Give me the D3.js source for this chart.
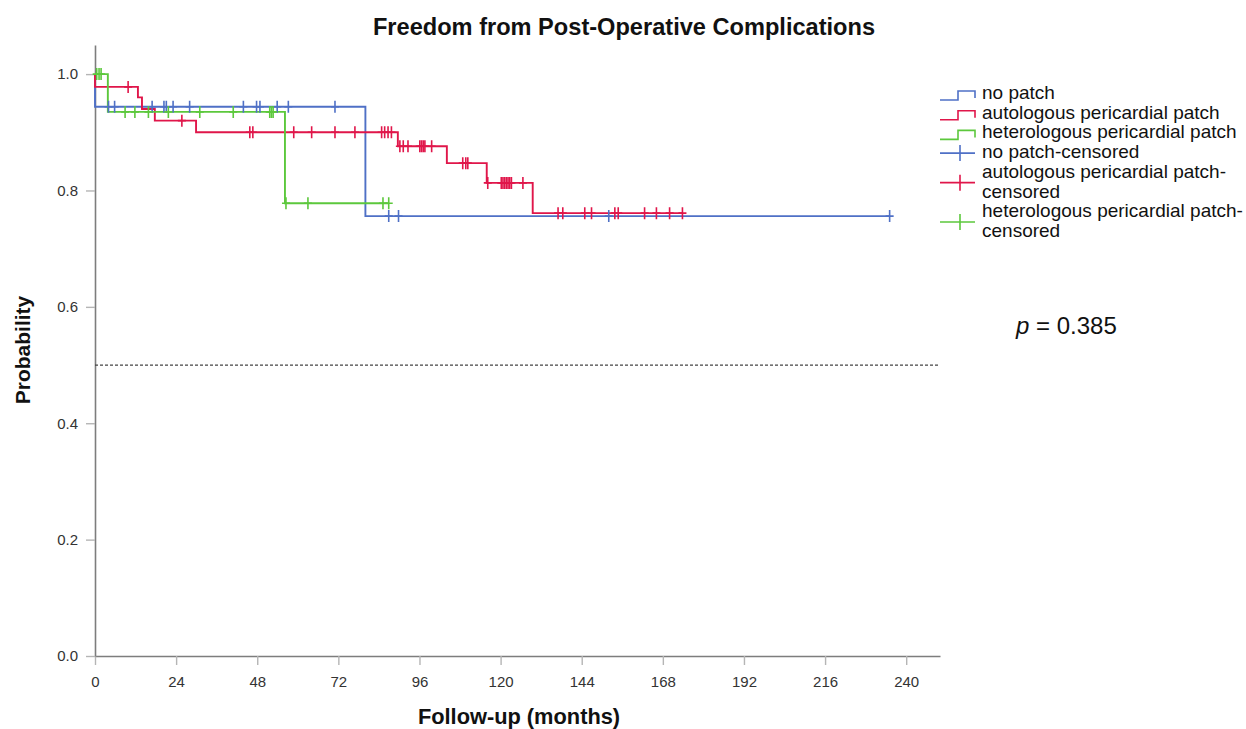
<!DOCTYPE html>
<html>
<head>
<meta charset="utf-8">
<script src="https://cdn.jsdelivr.net/npm/d3@7"></script>
<style>
  html, body { margin: 0; padding: 0; background: #fff; }
  svg { display: block; font-family: "Liberation Sans", Arial, Helvetica, sans-serif; }
</style>
</head>
<body>
<svg id="chart" width="1246" height="729"></svg>
<script>
// Kaplan–Meier estimates: freedom from post-operative complications by patch type

// No patch
const noPatchEventTimes = [0, 80];
const noPatchSurvival   = [0.944, 0.756];
const noPatchCensored   = [4.0, 5.8, 16.9, 20.4, 21.1, 23.1, 28.0, 43.9, 47.8, 48.8, 53.9, 57.2, 71.0,
                           86.9, 89.8, 152.0, 235.1];

// Autologous pericardial patch
const autoEventTimes = [0, 12.7, 13.9, 17.7, 29.9, 89.6, 104.1, 115.9, 129.5];
const autoSurvival   = [0.978, 0.960, 0.940, 0.920, 0.900, 0.876, 0.847, 0.813, 0.761];
const autoCensored   = [9.8, 25.7, 45.8, 46.7, 58.8, 64.1, 71.0, 76.9, 84.8, 85.7, 86.7, 87.7,
                        90.2, 91.2, 92.6, 96.1, 96.6, 97.1, 97.6, 99.6, 108.8, 109.7, 110.3,
                        116.2, 120.2, 120.7, 121.2, 121.7, 122.2, 122.7, 123.2, 126.6,
                        137.0, 138.4, 144.9, 146.9, 153.8, 154.8, 162.6, 166.1, 170.0, 173.8];

// Heterologous pericardial patch
const heteroEventTimes = [3.8, 56.2];
const heteroSurvival   = [0.935, 0.778];
const heteroCensored   = [0.5, 1.2, 1.8, 8.9, 11.8, 15.8, 21.7, 31.0, 40.9, 51.7, 52.2, 52.7,
                          56.5, 63.0, 85.2, 86.9];

const groupNames   = ["no patch", "autologous pericardial patch", "heterologous pericardial patch"];
const groupColors  = ["#4f70c6", "#e0164a", "#5cc83c"];
const xTickValues  = [0, 24, 48, 72, 96, 120, 144, 168, 192, 216, 240];
const yTickValues  = [0, 0.2, 0.4, 0.6, 0.8, 1.0];
const medianLine   = 0.5;
const pValueText   = "0.385";

const groups = [
  { name: groupNames[0], color: groupColors[0], times: noPatchEventTimes, surv: noPatchSurvival, cens: noPatchCensored },
  { name: groupNames[1], color: groupColors[1], times: autoEventTimes,    surv: autoSurvival,    cens: autoCensored },
  { name: groupNames[2], color: groupColors[2], times: heteroEventTimes,  surv: heteroSurvival,  cens: heteroCensored }
];

// survival value of a step function at time t
function survivalAt(g, t) {
  let s = 1;
  g.times.forEach((et, i) => { if (et <= t) s = g.surv[i]; });
  return s;
}

// step points: start at 1 at time 0, then each event, then flat to the last follow-up
function stepPoints(g) {
  const pts = [[0, 1]];
  g.times.forEach((t, i) => pts.push([t, g.surv[i]]));
  const end = d3.max(g.cens.concat(g.times));
  pts.push([end, survivalAt(g, end)]);
  return pts;
}

const svg = d3.select("#chart");
const x = d3.scaleLinear().domain([0, 250]).range([95, 940]);
const y = d3.scaleLinear().domain([0, 1.05]).range([656, 45]);

// axes
const xAxis = d3.axisBottom(x).tickValues(xTickValues).tickSize(9).tickSizeOuter(0).tickPadding(11)
  .tickFormat(d3.format("d"));
const yAxis = d3.axisLeft(y).tickValues(yTickValues).tickSize(9).tickSizeOuter(0).tickPadding(8)
  .tickFormat(d3.format(".1f"));

function styleAxis(g) {
  g.select(".domain").attr("stroke", "#7d7d7d").attr("stroke-width", 1.6);
  g.selectAll(".tick line").attr("stroke", "#b5b5b5").attr("stroke-width", 1.4);
  g.selectAll(".tick text").attr("fill", "#333").style("font-size", "15px")
    .style("font-family", "'Liberation Sans', Arial, sans-serif");
}

svg.append("g").attr("transform", "translate(0,656)").call(xAxis).call(styleAxis);
svg.append("g").attr("transform", "translate(95,0)").call(yAxis).call(styleAxis);

// reference line at 0.5
svg.append("line")
  .attr("x1", x(0)).attr("x2", x(250))
  .attr("y1", y(medianLine)).attr("y2", y(medianLine))
  .attr("stroke", "#444").attr("stroke-width", 1.3).attr("stroke-dasharray", "3,2");

// curves
const line = d3.line().x(d => x(d[0])).y(d => y(d[1])).curve(d3.curveStepAfter);
const plot = svg.append("g");

groups.forEach(g => {
  plot.append("path")
    .datum(stepPoints(g))
    .attr("d", line)
    .attr("fill", "none")
    .attr("stroke", g.color)
    .attr("stroke-width", 1.9);
});

const plusPath = "M-4,0H4M0,-6V6";
groups.forEach(g => {
  plot.append("g").selectAll("path")
    .data(g.cens)
    .join("path")
    .attr("transform", t => `translate(${x(t)},${y(survivalAt(g, t))})`)
    .attr("d", plusPath)
    .attr("fill", "none")
    .attr("stroke", g.color)
    .attr("stroke-width", 1.6);
});

// title and axis labels
svg.append("text")
  .attr("x", 624).attr("y", 35).attr("text-anchor", "middle")
  .style("font-size", "23.6px").style("font-weight", "bold").attr("fill", "#111")
  .text("Freedom from Post-Operative Complications");

svg.append("text")
  .attr("x", 519).attr("y", 724).attr("text-anchor", "middle")
  .style("font-size", "21.8px").style("font-weight", "bold").attr("fill", "#111")
  .text("Follow-up (months)");

svg.append("text")
  .attr("transform", "translate(30,350) rotate(-90)").attr("text-anchor", "middle")
  .style("font-size", "21px").style("font-weight", "bold").attr("fill", "#111")
  .text("Probability");

// legend
const legend = svg.append("g").attr("transform", "translate(940,0)");
const rowBase = 99, rowStep = 19.7, textX = 42;

groups.forEach((g, i) => {
  const b = rowBase + i * rowStep;
  legend.append("path")
    .attr("d", `M0,${b + 1}H18V${b - 8}H35V${b - 1}`)
    .attr("fill", "none").attr("stroke", g.color).attr("stroke-width", 1.6);
  legend.append("text").attr("x", textX).attr("y", b)
    .style("font-size", "19px").attr("fill", "#111").text(g.name);
});

const censoredRows = [[3], [4, 5], [6, 7]];
groups.forEach((g, i) => {
  const rows = censoredRows[i];
  const label = rows.length === 1 ? [g.name + "-censored"] : [g.name + "-", "censored"];
  const baselines = rows.map(r => rowBase + r * rowStep);
  const mid = (baselines[0] + baselines[baselines.length - 1]) / 2 - 5;
  legend.append("path")
    .attr("d", `M0,${mid}H35M20,${mid - 8}V${mid + 8}`)
    .attr("fill", "none").attr("stroke", g.color).attr("stroke-width", 1.6);
  label.forEach((txt, k) => {
    legend.append("text").attr("x", textX).attr("y", baselines[k])
      .style("font-size", "19px").attr("fill", "#111").text(txt);
  });
});

// log-rank p value
const pText = svg.append("text").attr("x", 1016).attr("y", 334)
  .style("font-size", "24px").attr("fill", "#111");
pText.append("tspan").style("font-style", "italic").text("p");
pText.append("tspan").text(" = " + pValueText);
</script>
</body>
</html>
